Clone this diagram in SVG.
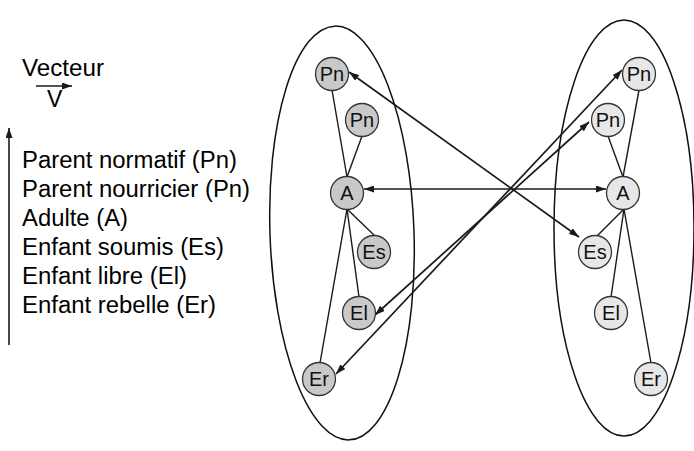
<svg xmlns="http://www.w3.org/2000/svg" width="694" height="451" viewBox="0 0 694 451">
<style>
.lbl{font-family:"Liberation Sans",Arial,sans-serif;font-size:23px;fill:#000}
.nt{font-family:"Liberation Sans",Arial,sans-serif;font-size:20px;fill:#111;text-anchor:middle}
.ell{fill:none;stroke:#111;stroke-width:1.5}
.edge{stroke:#1a1a1a;stroke-width:1.4;fill:none}
.arr{stroke:#1a1a1a;stroke-width:1.7;fill:none;marker-start:url(#ah);marker-end:url(#ah)}
.nl circle{fill:#c9c9c9;stroke:#333;stroke-width:1.3}
.nr circle{fill:#e7e7e7;stroke:#333;stroke-width:1.3}
</style>
<defs>
<marker id="ah" viewBox="0 0 10 7" refX="10" refY="3.5" markerWidth="10" markerHeight="7" markerUnits="userSpaceOnUse" orient="auto-start-reverse">
<path d="M0,0 L10,3.5 L0,7 z" fill="#1a1a1a"/>
</marker>
<marker id="ah1" viewBox="0 0 10 7" refX="10" refY="3.5" markerWidth="10" markerHeight="7" markerUnits="userSpaceOnUse" orient="auto">
<path d="M0,0 L10,3.5 L0,7 z" fill="#1a1a1a"/>
</marker>
</defs>
<rect width="694" height="451" fill="#fff"/>
<g id="legend">
<text class="lbl" x="22" y="76" textLength="82" lengthAdjust="spacingAndGlyphs">Vecteur</text>
<text class="lbl" x="47" y="107">V</text>
<line x1="36" y1="86" x2="72" y2="86" stroke="#1a1a1a" stroke-width="1.6" marker-end="url(#ah1)"/>
<line x1="9" y1="345" x2="9" y2="128" stroke="#1a1a1a" stroke-width="1.6" marker-end="url(#ah1)"/>
<text class="lbl" x="22" y="168" textLength="215" lengthAdjust="spacingAndGlyphs">Parent normatif (Pn)</text>
<text class="lbl" x="22" y="197" textLength="228" lengthAdjust="spacingAndGlyphs">Parent nourricier (Pn)</text>
<text class="lbl" x="22" y="226" textLength="106" lengthAdjust="spacingAndGlyphs">Adulte (A)</text>
<text class="lbl" x="22" y="255" textLength="202" lengthAdjust="spacingAndGlyphs">Enfant soumis (Es)</text>
<text class="lbl" x="22" y="284" textLength="165" lengthAdjust="spacingAndGlyphs">Enfant libre (El)</text>
<text class="lbl" x="22" y="313" textLength="194" lengthAdjust="spacingAndGlyphs">Enfant rebelle (Er)</text>
</g>
<g id="ellipses">
<ellipse class="ell" cx="342" cy="233" rx="72" ry="207" transform="rotate(-2 342 233)"/>
<ellipse class="ell" cx="624" cy="228" rx="70" ry="208"/>
</g>
<g id="connectors">
<line class="edge" x1="347" y1="177" x2="332" y2="90"/>
<line class="edge" x1="347" y1="177" x2="362" y2="136"/>
<line class="edge" x1="347" y1="209" x2="375" y2="236"/>
<line class="edge" x1="347" y1="209" x2="359" y2="297"/>
<line class="edge" x1="347" y1="209" x2="320" y2="363"/>
<line class="edge" x1="623" y1="177" x2="639" y2="90"/>
<line class="edge" x1="623" y1="177" x2="608" y2="136"/>
<line class="edge" x1="624" y1="209" x2="597" y2="236"/>
<line class="edge" x1="624" y1="209" x2="611" y2="297"/>
<line class="edge" x1="624" y1="209" x2="651" y2="363"/>
<line class="arr" x1="349" y1="72" x2="579" y2="237"/>
<line class="arr" x1="364" y1="189" x2="606" y2="189"/>
<line class="arr" x1="336" y1="374" x2="622" y2="70"/>
<line class="arr" x1="375" y1="315" x2="589" y2="122"/>
</g>
<g id="L-Pn1" class="nl"><circle cx="332" cy="74" r="16.5"/><text class="nt" x="332" y="81">Pn</text></g>
<g id="L-Pn2" class="nl"><circle cx="362" cy="120" r="16.5"/><text class="nt" x="362" y="127">Pn</text></g>
<g id="L-A" class="nl"><circle cx="347" cy="193" r="16.5"/><text class="nt" x="347" y="200">A</text></g>
<g id="L-Es" class="nl"><circle cx="374" cy="252" r="16.5"/><text class="nt" x="374" y="259">Es</text></g>
<g id="L-El" class="nl"><circle cx="359" cy="313" r="16.5"/><text class="nt" x="359" y="320">El</text></g>
<g id="L-Er" class="nl"><circle cx="319" cy="379" r="16.5"/><text class="nt" x="319" y="386">Er</text></g>
<g id="R-Pn1" class="nr"><circle cx="639" cy="74" r="16.5"/><text class="nt" x="639" y="81">Pn</text></g>
<g id="R-Pn2" class="nr"><circle cx="608" cy="120" r="16.5"/><text class="nt" x="608" y="127">Pn</text></g>
<g id="R-A" class="nr"><circle cx="623" cy="193" r="16.5"/><text class="nt" x="623" y="200">A</text></g>
<g id="R-Es" class="nr"><circle cx="595" cy="252" r="16.5"/><text class="nt" x="595" y="259">Es</text></g>
<g id="R-El" class="nr"><circle cx="611" cy="313" r="16.5"/><text class="nt" x="611" y="320">El</text></g>
<g id="R-Er" class="nr"><circle cx="651" cy="379" r="16.5"/><text class="nt" x="651" y="386">Er</text></g>
</svg>
